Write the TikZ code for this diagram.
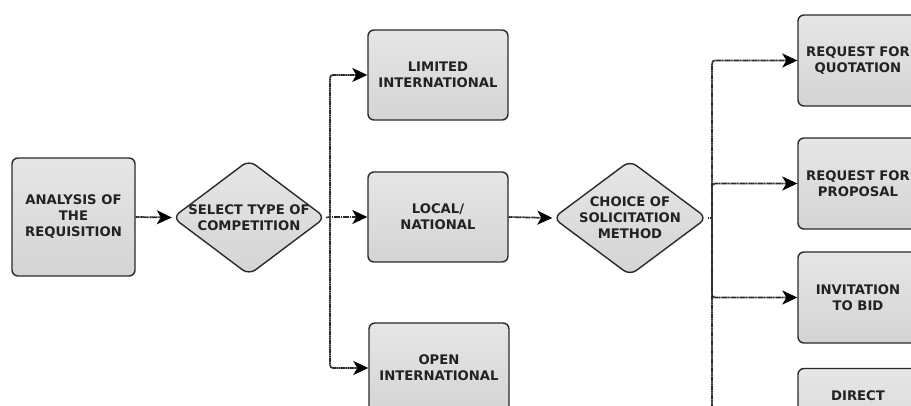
\documentclass[tikz,border=0pt]{standalone}
\usepackage{fontspec}
\setmainfont{DejaVu Sans}
\usetikzlibrary{shapes.geometric,arrows.meta}
\definecolor{boxfillA}{HTML}{E6E6E6}
\definecolor{boxfillB}{HTML}{D4D4D4}
\definecolor{edge}{HTML}{2A2A2A}
\definecolor{txt}{HTML}{222222}
\tikzset{
  txtstyle/.style={font=\fontsize{13.2}{16}\selectfont\bfseries, text=txt, align=center},
  boxnode/.style={txtstyle, draw=edge, line width=1.4pt, rounded corners=6pt,
    top color=boxfillA, bottom color=boxfillB, minimum width=140pt, minimum height=90pt, inner sep=0pt},
  rbox/.style={boxnode, minimum width=120pt, minimum height=91pt},
  diam/.style={shape=diamond, draw=edge, line width=1.4pt, rounded corners=8pt,
    top color=boxfillA, bottom color=boxfillB, minimum width=153pt, minimum height=115pt, inner sep=0pt},
  link/.style={draw=edge, line width=1.7pt, dash pattern=on 1.4pt off 0.4pt, rounded corners=3pt},
  conn/.style={link, -{Stealth[length=15pt,width=14pt,inset=4pt,color=black]}},
}
\begin{document}
\begin{tikzpicture}[x=1pt,y=-1pt]
\useasboundingbox (0,0) rectangle (911,406);
\clip (0,0) rectangle (911,406);
% nodes
\node[boxnode, minimum width=123pt, minimum height=118pt] (req) at (73.5,217) {ANALYSIS OF\\THE\\REQUISITION};
\node[diam, label={[txtstyle]center:SELECT TYPE OF\\COMPETITION}] (sel) at (249,217.5) {};
\node[boxnode] (lim) at (438,75) {LIMITED\\INTERNATIONAL};
\node[boxnode] (loc) at (438,217) {LOCAL/\\NATIONAL};
\node[boxnode] (open) at (439,368) {OPEN\\INTERNATIONAL};
\node[diam, minimum width=154pt, label={[txtstyle]center:CHOICE OF\\SOLICITATION\\METHOD}] (cho) at (630,218) {};
\node[rbox] (rfq) at (858,60.5) {REQUEST FOR\\QUOTATION};
\node[rbox] (rfp) at (858,183.5) {REQUEST FOR\\PROPOSAL};
\node[rbox] (itb) at (858,297.5) {INVITATION\\TO BID};
\node[rbox, label={[txtstyle,anchor=north,yshift=-19pt]north:DIRECT}] (dir) at (858,414) {};
\coordinate (j1) at (330,217);
\coordinate (j2) at (712,218);
% connectors
\draw[conn] (req.east) -- (sel.west);
\draw[link] (sel.east) -- (j1);
\draw[conn] (j1) |- (lim.west);
\draw[conn] (j1) -- (loc.west);
\draw[conn] (j1) |- (open.west);
\draw[conn] (loc.east) -- (cho.west);
\draw[link] (cho.east) -- (j2);
\draw[conn] (j2) |- (rfq.west);
\draw[conn] (j2) |- (rfp.west);
\draw[conn] (j2) |- (itb.west);
\draw[conn] (j2) |- (dir.west);
\end{tikzpicture}
\end{document}
